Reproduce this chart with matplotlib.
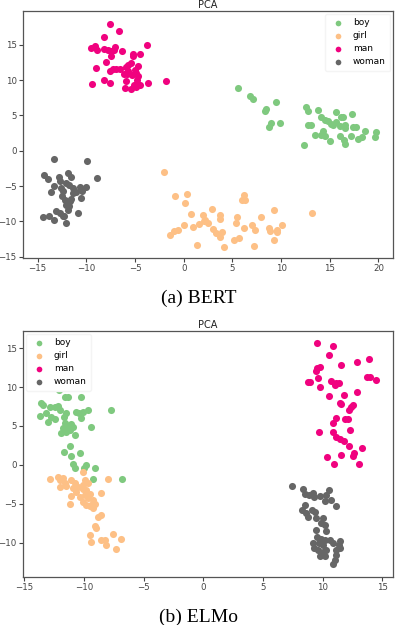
import matplotlib
matplotlib.use("Agg")
import matplotlib.pyplot as plt
import numpy as np

labels = ["boy", "girl", "man", "woman"]
colors = ["#7fc97f", "#fdc086", "#f0027f", "#666666"]

bert_boy = [(5.58,8.88),(6.78,7.70),(7.13,7.37),(9.52,6.85),(8.50,5.90),(8.39,5.57),(9.01,3.92),(8.74,3.31),
            (9.87,3.92),(12.61,6.19),(12.78,5.57),(13.81,5.81),(15.62,5.48),(17.30,5.20),(14.15,4.77),(14.49,4.39),
            (14.83,4.16),(15.18,3.83),(16.20,4.77),(16.37,4.77),(15.69,4.02),(16.03,3.45),(16.61,3.69),(16.61,3.21),
            (17.40,3.31),(17.74,3.31),(18.60,2.83),(19.80,2.60),(19.63,1.94),(12.78,3.69),(13.12,3.69),(13.46,2.27),
            (14.32,2.83),(14.15,2.17),(14.49,2.03),(15.07,1.42),(16.03,2.03),(16.44,1.56),(16.55,0.99),(17.16,2.13),
            (17.92,1.66),(18.33,1.89),(12.37,0.76),(15.35,3.69)]
bert_girl = [(-2.05,-3.07),(-0.92,-6.47),(0.38,-6.19),(0.17,-7.37),(0.79,-8.97),(1.99,-9.07),(2.16,-9.77),(2.91,-8.26),
             (3.70,-9.07),(3.77,-9.63),(0.03,-10.58),(0.96,-10.81),(1.58,-10.39),(2.09,-10.01),(2.50,-10.25),(-1.44,-11.90),
             (-1.03,-11.43),(-0.58,-11.28),(3.02,-11.10),(3.36,-11.66),(3.70,-12.23),(3.97,-11.57),(1.40,-13.36),(4.11,-13.65),
             (5.14,-12.70),(5.69,-12.42),(5.48,-9.44),(5.41,-10.25),(6.17,-6.23),(6.03,-6.94),(6.34,-7.04),(6.17,-10.95),
             (7.06,-10.48),(7.37,-11.28),(7.91,-9.44),(7.23,-13.55),(8.77,-10.95),(8.84,-11.33),(9.25,-8.36),(9.25,-12.61),
             (9.59,-11.19),(9.59,-11.57),(10.14,-10.58),(13.22,-8.83)]
bert_man = [(-7.60,17.99),(-6.65,16.90),(-8.15,16.10),(-9.49,14.50),(-9.08,14.78),(-8.91,14.31),(-8.19,14.40),(-7.78,14.21),
            (-7.43,14.07),(-7.09,14.69),(-7.16,14.31),(-7.43,13.36),(-6.37,14.17),(-3.73,14.92),(-5.21,13.74),(-5.21,13.46),
            (-4.52,13.74),(-7.95,12.51),(-9.04,11.76),(-7.26,11.62),(-7.54,11.24),(-6.99,11.57),(-6.58,11.62),(-5.96,11.81),
            (-5.72,12.18),(-5.38,12.42),(-5.72,11.33),(-6.17,10.91),(-5.82,10.91),(-5.04,11.48),(-4.69,11.95),(-4.86,11.00),
            (-4.69,10.53),(-5.31,10.77),(-8.19,10.06),(-9.39,9.49),(-7.54,9.59),(-5.96,9.82),(-6.06,8.88),(-5.38,8.74),
            (-5.14,9.35),(-4.86,9.02),(-4.45,9.35),(-3.67,9.59),(-1.85,9.82),(-4.79,10.06)]
bert_woman = [(-13.33,-1.18),(-9.90,-1.51),(-14.35,-3.40),(-13.94,-4.01),(-12.81,-3.78),(-11.89,-3.16),(-11.61,-3.73),
              (-8.91,-3.87),(-13.33,-5.05),(-13.60,-5.90),(-12.74,-4.34),(-12.13,-4.58),(-11.82,-4.82),(-12.64,-5.29),
              (-12.40,-5.76),(-11.37,-5.29),(-10.69,-5.15),(-10.07,-5.15),(-10.45,-5.76),(-10.52,-6.70),(-11.37,-5.99),
              (-12.47,-6.47),(-12.23,-6.94),(-11.72,-7.18),(-11.54,-6.85),(-12.06,-7.65),(-11.89,-8.36),(-13.09,-8.59),
              (-12.74,-8.83),(-12.30,-9.21),(-10.86,-8.83),(-14.46,-9.40),(-13.84,-9.21),(-13.33,-9.77),(-12.13,-10.25),
              (-12.40,-9.30),(-11.10,-5.90),(-11.78,-7.89)]

elmo_boy = [(-12.08,9.61),(-11.61,8.67),(-11.33,8.67),(-10.21,8.67),(-13.56,7.99),(-13.42,7.69),(-12.86,7.48),(-12.45,7.39),
            (-12.17,7.56),(-12.03,7.05),(-13.14,6.62),(-12.72,6.11),(-13.70,6.28),(-13.00,5.55),(-12.45,5.85),(-11.66,6.20),
            (-11.47,6.62),(-10.63,6.84),(-10.43,6.62),(-10.07,6.84),(-9.65,7.05),(-7.70,7.05),(-10.21,5.98),(-11.61,5.43),
            (-11.33,4.91),(-11.05,5.26),(-10.91,4.91),(-11.75,4.70),(-11.19,4.49),(-11.89,4.06),(-11.47,4.27),(-10.77,3.85),
            (-9.37,4.91),(-11.19,2.44),(-11.66,1.71),(-11.05,1.15),(-10.35,1.50),(-10.91,0.09),(-10.71,-0.43),(-9.79,0.00),
            (-9.99,-0.43),(-9.09,-0.34),(-9.23,-1.84),(-6.80,-1.84)]
elmo_girl = [(-12.86,-1.84),(-12.17,-1.50),(-12.03,-1.92),(-11.75,-1.71),(-11.61,-2.35),(-12.03,-2.78),(-11.47,-2.69),
             (-11.05,-1.92),(-10.77,-2.35),(-10.91,-2.99),(-10.49,-2.86),(-10.07,-2.56),(-9.93,-1.92),(-10.07,-3.12),
             (-9.79,-3.21),(-9.65,-2.35),(-10.63,-3.42),(-11.05,-3.98),(-10.35,-4.06),(-9.93,-3.85),(-9.65,-4.27),
             (-9.51,-3.72),(-8.53,-3.63),(-7.97,-1.75),(-9.23,-4.49),(-10.07,-4.83),(-9.79,-5.13),(-9.37,-5.13),
             (-9.09,-5.00),(-9.23,-5.56),(-9.51,-5.34),(-11.19,-5.00),(-8.81,-6.71),(-8.53,-6.41),(-9.09,-7.91),
             (-8.95,-8.12),(-9.51,-8.98),(-8.53,-9.62),(-8.25,-9.62),(-7.56,-8.85),(-6.86,-9.53),(-9.37,-9.96),
             (-8.11,-10.34),(-7.28,-10.81),(-10.07,-0.86)]
elmo_man = [(9.49,15.60),(10.88,15.30),(10.55,14.10),(11.58,12.82),(12.84,13.25),(13.87,13.55),(9.49,12.40),(9.77,12.61),
            (9.43,12.10),(9.63,11.11),(8.79,10.69),(8.98,10.69),(10.74,10.81),(11.16,10.47),(11.39,10.56),(11.02,10.26),
            (9.82,10.05),(13.73,11.24),(14.01,11.33),(14.46,10.90),(10.55,8.85),(11.78,8.98),(12.90,9.40),(11.44,7.99),
            (11.58,7.82),(12.56,7.69),(12.42,7.40),(12.23,7.05),(11.16,5.99),(10.83,5.43),(11.86,5.86),(12.14,5.86),
            (12.28,4.49),(9.71,4.28),(10.88,4.28),(11.16,3.55),(11.44,3.29),(11.78,3.12),(12.23,2.44),(13.26,2.14),
            (12.62,1.58),(12.56,1.15),(10.38,0.99),(11.58,1.28),(10.97,0.09),(13.06,0.09)]
elmo_woman = [(7.47,-2.69),(8.37,-3.12),(8.51,-3.72),(8.87,-3.84),(9.21,-3.63),(9.26,-4.06),(9.82,-3.97),(10.27,-3.93),
              (10.52,-3.20),(10.19,-4.70),(10.74,-4.48),(11.16,-5.34),(8.51,-5.13),(8.31,-5.77),(8.65,-6.19),(8.79,-6.75),
              (9.15,-5.77),(9.35,-6.11),(9.43,-6.84),(10.05,-6.84),(9.90,-7.48),(10.19,-7.69),(9.43,-8.33),(10.32,-8.54),
              (9.49,-9.27),(9.90,-9.53),(10.19,-9.70),(10.60,-9.70),(9.21,-10.04),(9.71,-10.04),(10.05,-10.25),
              (11.44,-9.83),(11.39,-10.25),(9.26,-10.68),(9.63,-10.98),(10.05,-11.24),(10.32,-10.90),(11.16,-10.90),
              (11.44,-10.68),(9.82,-11.75),(10.19,-11.75),(11.16,-11.54),(11.02,-12.18),(10.88,-12.69),(10.83,-10.04)]

bert = [bert_boy, bert_girl, bert_man, bert_woman]
elmo = [elmo_boy, elmo_girl, elmo_man, elmo_woman]

fig = plt.figure(figsize=(3.97, 6.25), dpi=100)
ax1 = fig.add_axes([0.058, 0.5872, 0.932, 0.3952])
ax2 = fig.add_axes([0.058, 0.0768, 0.932, 0.3936])

def draw(ax, groups, loc, xt, yt):
    for pts, lab, c in zip(groups, labels, colors):
        a = np.array(pts)
        ax.scatter(a[:, 0], a[:, 1], s=26, c=c, label=lab, linewidths=0)
    ax.set_title("PCA", fontsize=7, pad=2, color="#222222")
    ax.set_xticks(xt)
    ax.set_yticks(yt)
    ax.tick_params(labelsize=6.2, length=3, width=0.8, colors="#444444", pad=1.5)
    for s in ax.spines.values():
        s.set_color("#555555")
        s.set_linewidth(0.9)
    ax.legend(loc=loc, fontsize=6.5, frameon=True, framealpha=1, edgecolor="#f4f4f4",
              handletextpad=0.6, borderpad=0.5, labelspacing=0.45, markerscale=0.8,
              borderaxespad=0.3)

draw(ax1, bert, "upper right", [-15, -10, -5, 0, 5, 10, 15, 20], [-15, -10, -5, 0, 5, 10, 15])
ax1.set_xlim(-16.5, 21.5)
ax1.set_ylim(-15.2, 19.8)
draw(ax2, elmo, "upper left", [-15, -10, -5, 0, 5, 10, 15], [-10, -5, 0, 5, 10, 15])
ax2.set_xlim(-15.1, 15.9)
ax2.set_ylim(-14.4, 17.2)

fig.text(0.5, 0.523, "(a) BERT", ha="center", va="center", fontsize=14, family="Liberation Serif")
fig.text(0.5, 0.0128, "(b) ELMo", ha="center", va="center", fontsize=14, family="Liberation Serif")

fig.savefig("out.png", dpi=100)
